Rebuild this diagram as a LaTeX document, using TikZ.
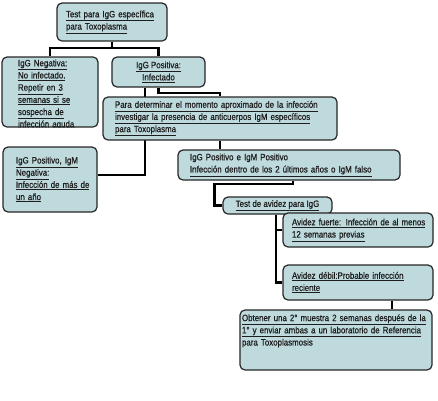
\documentclass[tikz,border=0pt]{standalone}
\usepackage{fontspec}
\setmainfont[FakeStretch=0.86, FakeBold=0.7]{Liberation Sans}
\usetikzlibrary{backgrounds,calc}
\definecolor{boxfill}{HTML}{BFDADD}
\definecolor{boxline}{HTML}{262626}
\definecolor{txtcol}{HTML}{1E1E1E}
\newcommand{\ulin}[1]{\underline{#1}}

\begin{document}
\begin{tikzpicture}[x=1pt, y=-1pt,
        caja/.style={draw=boxline, fill=boxfill, line width=1.2pt, rounded corners=5pt,
            inner xsep=0pt, inner ysep=2pt, text=txtcol,
            font=\fontsize{9.2}{12.2}\selectfont, align=left},
        texto/.style={text=txtcol, font=\fontsize{9.2}{12.2}\selectfont, align=left, inner sep=0pt},
        linea/.style={draw=black, line width=2.2pt}]
    \useasboundingbox (0,0) rectangle (438,400);

    % Draw boxes
    \node[caja, minimum width=110pt, minimum height=38pt, text width=92pt] (test) at (112,22)
        {\ulin{Test para IgG específica}\\ \ulin{para Toxoplasma}};
    \node[caja, minimum width=96pt, minimum height=70pt] (neg) at (50,92) {};
    \begin{scope}
        \clip[rounded corners=5pt] (neg.south west) rectangle (neg.north east);
        \node[texto, text width=64pt, anchor=north] (negtxt) at ([yshift=-3pt]neg.north)
            {\ulin{IgG Negativa:}\\ \ulin{No infectado.}\\ \ulin{Repetir en 3}\\
             \ulin{semanas si se}\\ \ulin{sospecha de}\\ \ulin{infección aguda}};
    \end{scope}
    \node[caja, minimum width=93pt, minimum height=30pt, align=center] (pos) at (158.5,72)
        {\ulin{IgG Positiva:}\\ \ulin{Infectado}};
    \node[caja, minimum width=234pt, minimum height=43pt, text width=210pt] (det) at (220,118.5)
        {\ulin{Para determinar el momento aproximado de la infección}\\
         \ulin{investigar la presencia de anticuerpos IgM específicos}\\
         \ulin{para Toxoplasma}};
    \node[caja, minimum width=94pt, minimum height=65pt, text width=68pt] (ipos) at (50,179.5)
        {\ulin{IgG Positivo, IgM}\\ \ulin{Negativa:}\\ \ulin{Infección de más de}\\ \ulin{un año}};
    \node[caja, minimum width=222pt, minimum height=30pt, text width=198pt] (igm) at (289,165)
        {\mbox{IgG Positivo e IgM Positivo}\\
         \ulin{Infección dentro de los 2 últimos años o IgM falso}};
    \node[caja, minimum width=109pt, minimum height=17pt, align=center] (avi) at (277.5,205.5)
        {\ulin{Test de avidez para IgG}};
    \node[caja, minimum width=150pt, minimum height=34pt, text width=132pt] (fue) at (358,230)
        {\ulin{Avidez fuerte: Infección de al menos}\\ \ulin{12 semanas previas}};
    \node[caja, minimum width=150pt, minimum height=35pt, text width=132pt] (deb) at (358,282.5)
        {\ulin{Avidez débil:Probable infección}\\ \ulin{reciente}};
    \node[caja, minimum width=192pt, minimum height=60pt, text width=188pt] (obt) at (336,340)
        {\ulin{Obtener una 2° muestra 2 semanas después de la}\\
         \ulin{1° y enviar ambas a un laboratorio de Referencia}\\
         \mbox{para Toxoplasmosis}\\[8pt]\mbox{}};

    % Draw connections
    \begin{pgfonlayer}{background}
        \draw[linea] (test.south) -- ++(0,6) -| (neg.north);
        \draw[linea] (test.south) -- ++(0,6) -| (pos.north);
        \draw[linea] ([xshift=-13.5pt]pos.south) |- ([yshift=4.5pt]ipos.east);
        \draw[linea] (pos.south) -- ++(0,5) -| (det.north);
        \draw[linea] (det.south) -- (det.south |- igm.north);
        \draw[linea] ([xshift=4pt]igm.south) -- ++(0,3) -| ($(avi.west)+(-8,0)$) -- (avi.west);
        \draw[linea] ([xshift=-1.5pt]avi.south) |- (fue.west);
        \draw[linea] ([xshift=-1.5pt]avi.south) |- (deb.west);
        \draw[linea] ([xshift=34pt]deb.south) -- ([xshift=34pt]deb.south |- obt.north);
    \end{pgfonlayer}
\end{tikzpicture}
\end{document}
